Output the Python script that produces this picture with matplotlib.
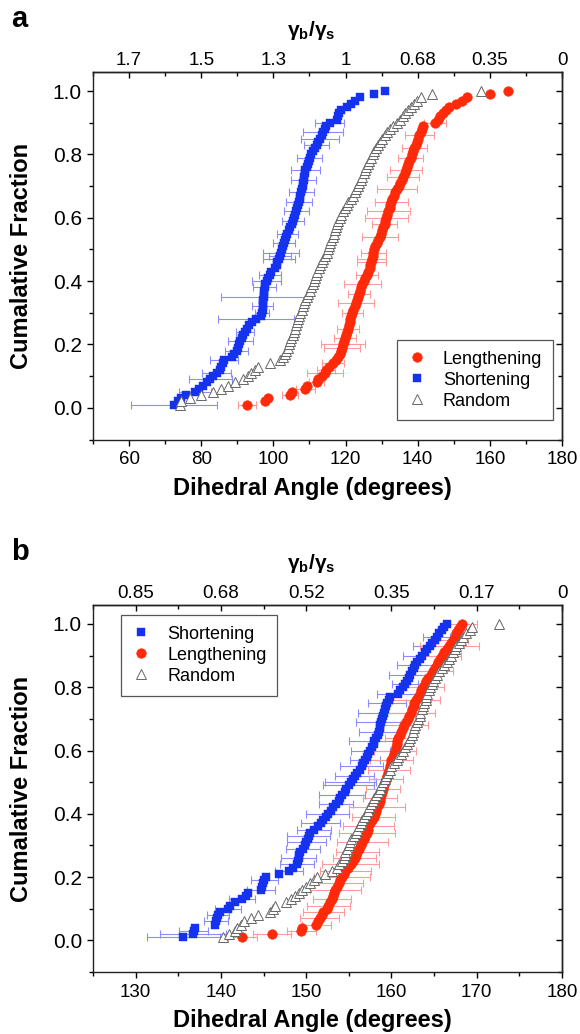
import numpy as np
import matplotlib
matplotlib.use("Agg")
import matplotlib.pyplot as plt
from matplotlib.ticker import MultipleLocator

plt.rcParams['font.family'] = ['Liberation Sans', 'DejaVu Sans']
plt.rcParams['mathtext.fontset'] = 'custom'
plt.rcParams['mathtext.rm'] = 'Liberation Sans'
plt.rcParams['mathtext.it'] = 'Liberation Sans:italic'
plt.rcParams['mathtext.bf'] = 'Liberation Sans:bold'

# ---------------- data: panel a (dihedral angles, sorted) ----------------
a_short = [72.5, 73.5, 74.5, 75.9, 78.2, 79.5, 80.5, 81.5, 82.5, 83.3,
           84.3, 85.1, 85.6, 86.0, 86.3, 88.5, 89.2, 89.8, 90.2, 90.5,
           90.8, 91.2, 91.7, 92.2, 92.6, 93.3, 94.2, 95.2, 96.5, 96.9,
           97.0, 97.0, 97.1, 97.2, 97.3, 97.4, 97.5, 97.6, 97.8, 98.2,
           98.6, 99.0, 99.4, 100.4, 100.9, 101.1, 101.5, 101.8, 102.1, 102.5,
           102.8, 103.0, 103.3, 103.6, 103.9, 104.3, 104.7, 105.1, 105.4, 105.8,
           106.1, 106.4, 106.6, 106.9, 107.1, 107.3, 107.5, 107.7, 107.9, 108.1,
           108.3, 108.4, 108.5, 108.7, 108.9, 109.2, 109.5, 109.8, 110.1, 110.5,
           111.0, 111.5, 112.0, 112.5, 113.0, 113.4, 113.8, 114.2, 114.7, 115.6,
           117.5, 117.8, 118.2, 118.8, 120.3, 121.5, 122.6, 124.0, 127.9, 130.9]
a_short_err = [12, 0, 0, 0, 4.5, 0, 0, 0, 6, 0,
               4, 0, 0, 0, 4, 0, 0, 3.2, 0, 0,
               3.5, 0, 0, 2.5, 0, 0, 0, 10.5, 0, 2,
               0, 3, 0, 0, 11.8, 0, 0, 3.2, 0, 4,
               0, 3, 0, 0, 0, 0, 4.4, 3, 5, 0,
               0, 3, 0, 0, 3, 0, 0, 0, 3, 0,
               0, 3.5, 0, 0, 3.5, 0, 0, 3.5, 0, 0,
               0, 3.5, 0, 0, 4, 0, 0, 0, 3.5, 0,
               0, 0, 3.5, 0, 5.3, 0, 5.5, 0, 0, 4,
               0, 0, 0, 0, 0, 0, 0, 0, 0, 0]
a_len = [92.7, 97.8, 98.4, 104.6, 105.2, 108.9, 109.2, 112.0, 112.4, 113.5,
         114.3, 114.7, 115.5, 116.6, 117.3, 118.0, 118.4, 118.8, 119.1, 119.3,
         119.6, 119.9, 120.1, 120.3, 120.6, 120.9, 121.1, 121.3, 121.6, 121.9,
         122.2, 122.5, 122.8, 123.1, 123.4, 123.7, 124.0, 124.3, 124.7, 125.1,
         125.5, 125.9, 126.3, 126.7, 126.9, 127.1, 127.3, 127.5, 127.7, 127.9,
         128.2, 128.6, 129.1, 129.5, 129.9, 130.2, 130.5, 130.8, 131.0, 131.3,
         131.6, 131.9, 132.2, 132.4, 132.7, 132.9, 133.3, 133.8, 134.2, 134.7,
         135.1, 135.6, 136.0, 136.4, 136.7, 137.0, 137.3, 137.7, 138.1, 138.4,
         138.8, 139.1, 139.5, 139.8, 140.1, 140.4, 140.8, 141.2, 141.6, 144.8,
         145.5, 146.2, 147.0, 147.8, 148.6, 150.5, 152.2, 153.6, 160.0, 165.0]
a_len_err = [2.5, 0, 0, 2.3, 0, 2.5, 0, 2, 0, 0,
             5, 2.5, 0, 3, 0, 0, 0, 0, 5, 6,
             0, 3, 0, 0, 3, 0, 0, 0, 0, 3,
             0, 0, 5, 0, 0, 3, 0, 0, 5, 0,
             0, 3, 0, 0, 0, 4, 4, 0, 3.5, 0,
             0, 0, 0, 5, 0, 0, 0, 3.5, 0, 6,
             0, 6, 0, 0, 4.5, 0, 0, 0, 5.5, 0,
             0, 0, 4.5, 0, 4.5, 0, 0, 0, 3.5, 0,
             0, 3.5, 0, 0, 0, 4, 0, 0, 0, 3,
             0, 0, 0, 0, 0, 0, 0, 0, 0, 0]
a_rand = [74.0, 74.5, 76.8, 79.8, 83.3, 85.6, 87.5, 89.3, 91.6, 93.0,
          93.9, 94.9, 95.8, 99.0, 101.8, 102.7, 103.2, 103.6, 104.0, 104.4,
          104.7, 105.0, 105.3, 105.7, 106.0, 106.3, 106.6, 106.9, 107.2, 107.5,
          107.8, 108.1, 108.4, 108.8, 109.2, 109.7, 110.1, 110.5, 110.9, 111.3,
          111.6, 111.9, 112.2, 112.6, 113.0, 113.4, 113.8, 114.3, 114.8, 115.2,
          115.5, 115.8, 116.1, 116.4, 116.7, 117.0, 117.3, 117.6, 118.0, 118.4,
          118.8, 119.3, 119.8, 120.3, 120.8, 121.4, 122.0, 122.5, 123.0, 123.4,
          123.8, 124.2, 124.6, 125.0, 125.4, 125.8, 126.2, 126.6, 127.0, 127.5,
          128.0, 128.5, 129.0, 129.6, 130.2, 130.8, 131.4, 132.3, 133.2, 134.2,
          135.0, 135.8, 136.6, 137.4, 138.2, 139.0, 139.8, 140.9, 144.1, 157.5]

# ---------------- data: panel b ----------------
b_short = [135.6, 136.7, 136.8, 137.0, 139.3, 139.4, 139.5, 139.7, 139.9, 140.8,
           141.1, 141.7, 142.5, 143.0, 143.2, 144.7, 144.8, 144.9, 145.1, 145.3,
           146.8, 148.0, 148.5, 148.9, 149.0, 149.1, 149.2, 149.3, 149.6, 149.9,
           150.0, 150.2, 150.3, 150.4, 150.9, 151.4, 151.7, 152.0, 152.3, 152.5,
           152.9, 153.2, 153.5, 153.8, 154.0, 154.2, 154.5, 154.7, 155.0, 155.2,
           155.5, 155.7, 156.0, 156.3, 156.5, 156.7, 156.9, 157.1, 157.3, 157.5,
           157.7, 157.9, 158.0, 158.2, 158.4, 158.5, 158.6, 158.7, 158.8, 158.9,
           159.0, 159.1, 159.2, 159.4, 159.5, 159.7, 159.8, 160.8, 161.0, 161.3,
           161.6, 161.8, 162.0, 162.2, 162.4, 162.6, 162.8, 163.0, 163.3, 163.6,
           163.9, 164.2, 164.5, 164.8, 165.1, 165.3, 165.6, 165.9, 166.2, 166.5]
b_short_err = [4.3, 3.9, 1.7, 0, 0, 1.4, 0, 1.3, 0, 1.5,
               0, 0, 1.5, 0, 0, 1.6, 0, 0, 1.6, 0,
               0, 1.6, 0, 2, 0, 2, 0, 0, 2, 0,
               2.3, 0, 2.5, 0, 2, 0, 2.3, 0, 0, 2.5,
               0, 0, 2, 0, 0, 2.7, 0, 0, 3, 3,
               0, 2.3, 0, 0, 2.5, 0, 1.8, 0, 0, 2.3,
               0, 0, 3, 0, 0, 2.3, 0, 0, 3, 0,
               0, 3, 0, 0, 2.2, 0, 0, 2.5, 0, 0,
               1.5, 0, 0, 2.5, 0, 0, 2.2, 0, 0, 2.2,
               0, 0, 2, 0, 0, 1.6, 0, 0, 0, 0]
b_len = [142.5, 146.0, 149.4, 149.5, 151.2, 151.4, 151.6, 151.8, 152.0, 152.4,
         152.6, 152.8, 153.0, 153.1, 153.3, 153.4, 153.6, 153.8, 154.0, 154.2,
         154.4, 154.6, 154.9, 155.2, 155.5, 155.7, 155.9, 156.0, 156.2, 156.4,
         156.6, 156.8, 156.9, 157.1, 157.2, 157.3, 157.5, 157.7, 157.9, 158.1,
         158.2, 158.3, 158.5, 158.6, 158.7, 158.8, 158.9, 159.0, 159.1, 159.3,
         159.4, 159.5, 159.6, 159.7, 159.8, 159.9, 160.0, 160.2, 160.3, 160.4,
         160.5, 160.6, 160.7, 160.8, 161.0, 161.1, 161.3, 161.5, 161.7, 161.9,
         162.1, 162.3, 162.4, 162.6, 162.7, 162.9, 163.1, 163.3, 163.5, 163.7,
         163.9, 164.1, 164.3, 164.6, 164.9, 165.1, 165.3, 165.5, 165.7, 165.9,
         166.2, 166.5, 166.8, 167.0, 167.2, 167.4, 167.6, 167.8, 168.0, 168.3]
b_len_err = [1.7, 2.2, 1.7, 0, 1.7, 0, 2.3, 0, 2.4, 0,
             2.5, 0, 2.2, 0, 0, 3, 0, 2.9, 0, 3.3,
             0, 3, 0, 3.3, 0, 2.5, 0, 2.5, 0, 0,
             3, 0, 0, 3.3, 0, 3, 0, 0, 2.5, 0,
             0, 3.3, 0, 0, 2, 0, 0, 2, 0, 0,
             2, 0, 0, 2.5, 0, 0, 2.5, 0, 0, 2.5,
             0, 0, 0, 1.5, 0, 0, 0, 2.8, 0, 0,
             0, 2.8, 0, 0, 0, 2.8, 0, 0, 0, 2.5,
             0, 0, 0, 0, 2.3, 0, 0, 0, 0, 2.3,
             0, 0, 3.5, 0, 1.8, 0, 0, 0, 0, 1.7]
b_rand = [140.2, 141.0, 141.6, 141.9, 142.3, 142.7, 143.5, 144.4, 145.8, 146.1,
          146.4, 147.6, 148.2, 148.7, 149.2, 149.5, 150.0, 150.5, 150.9, 151.3,
          152.2, 153.0, 153.6, 153.9, 154.2, 154.4, 154.5, 154.6, 154.8, 155.0,
          155.1, 155.3, 155.6, 155.8, 156.0, 156.2, 156.4, 156.6, 156.8, 157.0,
          157.2, 157.4, 157.6, 157.8, 158.0, 158.2, 158.4, 158.6, 158.8, 159.0,
          159.2, 159.4, 159.6, 159.8, 160.0, 160.3, 160.6, 160.8, 161.1, 161.4,
          161.6, 161.8, 162.0, 162.2, 162.4, 162.5, 162.7, 162.8, 163.0, 163.1,
          163.3, 163.4, 163.6, 163.7, 163.8, 164.0, 164.1, 164.2, 164.4, 164.5,
          164.7, 164.9, 165.1, 165.3, 165.6, 165.9, 166.2, 166.5, 166.8, 167.0,
          167.2, 167.4, 167.6, 167.9, 168.2, 168.4, 168.8, 169.2, 169.5, 172.6]

# tick labels
a_bottom_ticks = [60, 80, 100, 120, 140, 160, 180]
a_top_labels = ['1.7', '1.5', '1.3', '1', '0.68', '0.35', '0']
b_bottom_ticks = [130, 140, 150, 160, 170, 180]
b_top_labels = ['0.85', '0.68', '0.52', '0.35', '0.17', '0']
y_ticks = [0.0, 0.2, 0.4, 0.6, 0.8, 1.0]

# ---------------- styles ----------------
BLUE = '#1432f0'
RED = '#ff2a0a'
STY = {
    'Shortening': dict(marker='s', mec=BLUE, mfc=BLUE, ms=6.2, ecol='#8c8cff', lw=0.3),
    'Lengthening': dict(marker='o', mec=RED, mfc=RED, ms=7.0, ecol='#ff9a9a', lw=0.3),
    'Random': dict(marker='^', mec='#666666', mfc='white', ms=7.8, ecol=None, lw=0.7),
}

W, H = 580, 1034
fig = plt.figure(figsize=(W / 100, H / 100), dpi=100)


def rect(l, t, r, b):
    return [l / W, 1 - b / H, (r - l) / W, (b - t) / H]


def fx(x):
    return x / W


def fy(y):
    return 1 - y / H


def draw_panel(ax, series, xlim, xticks, xminor, top_labels, order, leg_loc, leg_anchor):
    handles = {}
    for name, ang, err in series:
        if err is None:
            continue
        ang = np.asarray(ang, float)
        frac = np.arange(1, len(ang) + 1) / len(ang)
        e = np.asarray(err, float)
        m = e > 0
        ax.errorbar(ang[m], frac[m], xerr=e[m], fmt='none', ecolor=STY[name]['ecol'],
                    elinewidth=0.8, capsize=2.6, capthick=0.8, zorder=1)
    zo = {'Shortening': 3, 'Lengthening': 3, 'Random': 4}
    for name, ang, err in series:
        ang = np.asarray(ang, float)
        frac = np.arange(1, len(ang) + 1) / len(ang)
        st = STY[name]
        h, = ax.plot(ang, frac, linestyle='none', marker=st['marker'], ms=st['ms'],
                     mfc=st['mfc'], mec=st['mec'], mew=st['lw'], zorder=zo[name], label=name)
        handles[name] = h

    ax.set_xlim(*xlim)
    ax.set_ylim(-0.1, 1.06)
    ax.set_xticks(xticks)
    ax.xaxis.set_minor_locator(MultipleLocator(xminor))
    ax.set_yticks(y_ticks)
    ax.set_yticklabels(['%.1f' % v for v in y_ticks])
    ax.yaxis.set_minor_locator(MultipleLocator(0.1))
    ax.tick_params(axis='x', which='both', direction='out', top=False, labelsize=13.5, pad=4, width=1)
    ax.tick_params(axis='y', which='both', direction='out', right=False, labelsize=15, pad=3.5, width=1)
    ax.tick_params(which='major', length=4.5)
    ax.tick_params(which='minor', length=2.8)
    for s in ax.spines.values():
        s.set_linewidth(1.0)
        s.set_color('#222222')

    sx = ax.secondary_xaxis('top')
    sx.set_xticks(xticks)
    sx.set_xticklabels(top_labels)
    sx.xaxis.set_minor_locator(MultipleLocator(xminor))
    sx.tick_params(which='both', direction='in', labelsize=13.5, pad=2.5, width=1)
    sx.tick_params(which='major', length=4.5)
    sx.tick_params(which='minor', length=2.8)
    sx.spines['top'].set_linewidth(1.0)

    sy = ax.secondary_yaxis('right')
    sy.set_yticks(y_ticks)
    sy.set_yticklabels([])
    sy.yaxis.set_minor_locator(MultipleLocator(0.1))
    sy.tick_params(which='both', direction='in', width=1)
    sy.tick_params(which='major', length=4.5)
    sy.tick_params(which='minor', length=2.8)
    sy.spines['right'].set_linewidth(1.0)

    leg = ax.legend([handles[k] for k in order], order, loc=leg_loc, bbox_to_anchor=leg_anchor,
                    borderaxespad=0, fontsize=13, frameon=True, fancybox=False,
                    edgecolor='#555555', framealpha=1, handlelength=1.0, handletextpad=0.95,
                    borderpad=0.6, labelspacing=0.22)
    leg.get_frame().set_linewidth(0.9)
    leg.set_zorder(10)


ax_a = fig.add_axes(rect(93, 72, 562, 439.5))
draw_panel(ax_a,
           [('Shortening', a_short, a_short_err), ('Lengthening', a_len, a_len_err), ('Random', a_rand, None)],
           (50, 180), a_bottom_ticks, 10, a_top_labels,
           ['Lengthening', 'Shortening', 'Random'], 'lower right', (0.981, 0.052))

ax_b = fig.add_axes(rect(93, 605, 562, 972))
draw_panel(ax_b,
           [('Shortening', b_short, b_short_err), ('Lengthening', b_len, b_len_err), ('Random', b_rand, None)],
           (125, 180), b_bottom_ticks, 5, b_top_labels,
           ['Shortening', 'Lengthening', 'Random'], 'upper left', (0.06, 0.973))

gam = r'$\mathbf{\gamma}_\mathbf{b}\mathbf{/\gamma}_\mathbf{s}$'
for off, letter in [(0, 'a'), (532.8, 'b')]:
    fig.text(fx(11), fy(26.7 + off), letter, fontsize=21, fontweight='bold', ha='left', va='baseline')
    fig.text(fx(311), fy(31 + off), gam, fontsize=15, ha='center', va='center')
    fig.text(fx(312), fy(488 + off), 'Dihedral Angle (degrees)', fontsize=17, fontweight='bold',
             ha='center', va='center')
    fig.text(fx(22), fy(256 + off), 'Cumalative Fraction', fontsize=17, fontweight='bold',
             ha='center', va='center', rotation=90)

fig.savefig('out.png', dpi=100)
